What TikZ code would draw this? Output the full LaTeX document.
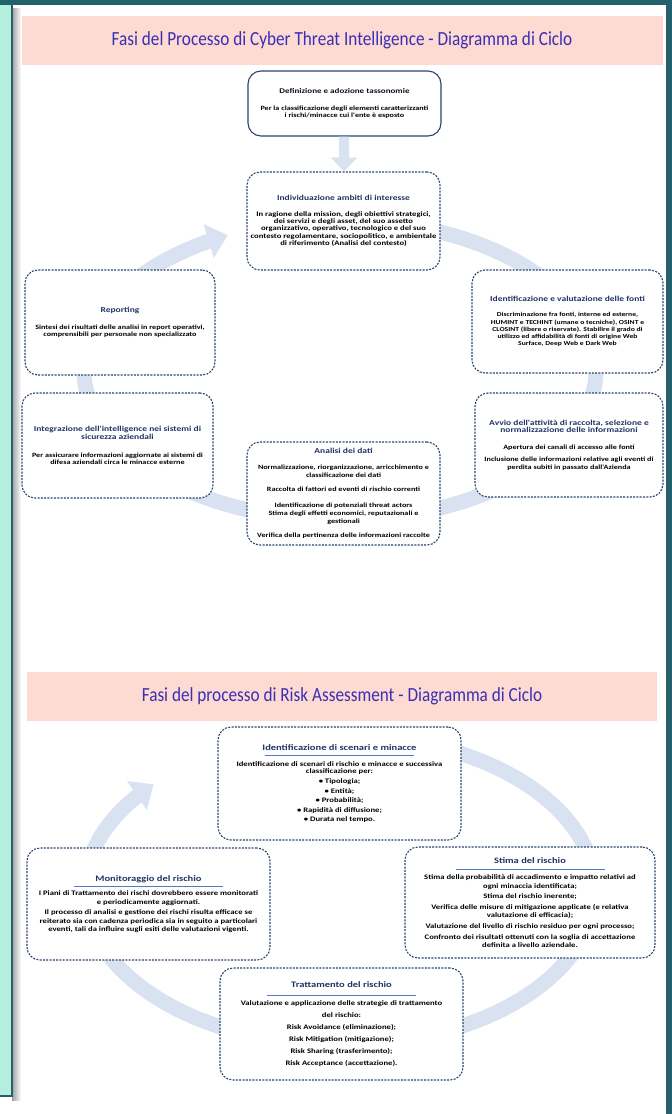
\documentclass[tikz,border=0pt]{standalone}
\usepackage{fontspec}
\usetikzlibrary{arrows.meta}
\setmainfont{Carlito}
\newfontfamily\boxfont[FakeStretch=1.25]{Carlito}
\newfontfamily\titlefont[FakeStretch=0.86]{Carlito}
\definecolor{deepteal}{HTML}{25616C}
\definecolor{mint}{HTML}{B4EEDD}
\definecolor{bannerpink}{HTML}{FDDAD2}
\definecolor{titleblue}{HTML}{3A2FB5}
\definecolor{boxnavy}{HTML}{2B4470}
\definecolor{headnavy}{HTML}{1F3566}
\definecolor{ringblue}{HTML}{D8E2F0}
\definecolor{ruleblue}{HTML}{4F7BC8}
\newcommand\ctihead[1]{{\color{headnavy}\fontsize{7.6}{8.2}\selectfont #1}}
\newcommand\rahead[1]{{\color{headnavy}\fontsize{8.4}{9}\selectfont #1}\\[-4pt]{\color{ruleblue}\rule{149pt}{0.7pt}}}
\tikzset{
  phase/.style={draw=boxnavy, line width=1.1pt, dash pattern=on 2pt off 1.3pt,
    rounded corners=13pt, fill=white, align=center, inner sep=2pt,
    font=\boxfont\bfseries\fontsize{6.5}{7.2}\selectfont},
  raphase/.style={phase, font=\boxfont\bfseries\fontsize{6.9}{#1}\selectfont},
  banner/.style={fill=bannerpink, text=titleblue, inner sep=0pt,
    font=\titlefont\fontsize{20}{22}\selectfont},
  ring/.style={ringblue, line width=15pt, -{Triangle[width=34pt,length=20pt]}},
  feed/.style={ringblue, line width=10pt, -{Triangle[width=26pt,length=14pt]}}
}
\begin{document}
\begin{tikzpicture}[x=1pt,y=-1pt]
\useasboundingbox (0,0) rectangle (672,1114);
% page and frame
\fill[white] (0,0) rectangle (672,1114);
\shade[left color=gray!75, right color=white] (12,8) rectangle (21,1100);
\fill[mint] (0,5) rectangle (12,1096);
\draw[deepteal, line width=1.5pt] (12,5) -- (12,1096) -- (0,1096);
\fill[deepteal] (0,0) rectangle (672,5);
\fill[deepteal] (666,0) rectangle (672,1114);

% Cyber Threat Intelligence
\node[banner, minimum width=641pt, minimum height=49pt] (ctititle) at (342,40)
  {Fasi del Processo di Cyber Threat Intelligence - Diagramma di Ciclo};
\draw[ring] plot[domain=-80:244, samples=120] ({340+256*cos(\x)},{370+150*sin(\x)});

\node[phase, solid, minimum width=193pt, minimum height=65pt] (defn) at (344.5,103.5)
  {{\color{black!70!headnavy}\fontsize{7.2}{8}\selectfont Definizione e adozione tassonomie}\\[9pt]
   Per la classificazione degli elementi caratterizzanti\\i rischi/minacce cui l'ente è esposto};
\node[phase, minimum width=193pt, minimum height=98pt,
      font=\boxfont\bfseries\fontsize{6.9}{7.3}\selectfont] (indiv) at (343.5,221)
  {\ctihead{Individuazione ambiti di interesse}\\[8pt]
   In ragione della mission, degli obiettivi strategici,\\dei servizi e degli asset, del suo assetto\\
   organizzativo, operativo, tecnologico e del suo\\contesto regolamentare, sociopolitico, e ambientale\\
   di riferimento (Analisi del contesto)};
\draw[feed] (defn) -- (indiv);
\node[phase, minimum width=191pt, minimum height=103pt,
      font=\boxfont\bfseries\fontsize{6.1}{7.2}\selectfont] (fonti) at (567.5,321.5)
  {\ctihead{Identificazione e valutazione delle fonti}\\[8pt]
   Discriminazione fra fonti, interne ed esterne,\\HUMINT e TECHINT (umane o tecniche), OSINT e\\
   CLOSINT (libere o riservate). Stabilire il grado di\\utilizzo ed affidabilità di fonti di origine Web\\
   Surface, Deep Web e Dark Web};
\node[phase, minimum width=188pt, minimum height=104pt] (avvio) at (569,445)
  {\ctihead{Avvio dell'attività di raccolta, selezione e}\\\ctihead{normalizzazione delle informazioni}\\[10pt]
   Apertura dei canali di accesso alle fonti\\[5pt]
   Inclusione delle informazioni relative agli eventi di\\perdita subiti in passato dall'Azienda};
\node[phase, minimum width=193pt, minimum height=103pt,
      font=\boxfont\bfseries\fontsize{6.5}{8}\selectfont] (analisi) at (343.5,493.5)
  {\ctihead{Analisi dei dati}\\[8pt]
   Normalizzazione, riorganizzazione, arricchimento e\\classificazione dei dati\\[6pt]
   Raccolta di fattori ed eventi di rischio correnti\\[8pt]
   Identificazione di potenziali threat actors\\Stima degli effetti economici, reputazionali e\\gestionali\\[6pt]
   Verifica della pertinenza delle informazioni raccolte};
\node[phase, minimum width=191pt, minimum height=105pt] (integr) at (117.5,445.5)
  {\ctihead{Integrazione dell'intelligence nei sistemi di}\\\ctihead{sicurezza aziendali}\\[11pt]
   Per assicurare informazioni aggiornate ai sistemi di\\difesa aziendali circa le minacce esterne};
\node[phase, minimum width=190pt, minimum height=105pt] (report) at (120,322.5)
  {\ctihead{Reporting}\\[10pt]
   Sintesi dei risultati delle analisi in report operativi,\\comprensibili per personale non specializzato};

% Risk Assessment
\node[banner, minimum width=630pt, minimum height=49pt] (ratitle) at (342,696)
  {Fasi del processo di Risk Assessment - Diagramma di Ciclo};
\draw[ring] plot[domain=-80:223, samples=120] ({340+255*cos(\x)},{890+155*sin(\x)});

\node[raphase=9.6, minimum width=243pt, minimum height=113pt] (scenari) at (339.5,783.5)
  {\rahead{Identificazione di scenari e minacce}\\[1pt]
   Identificazione di scenari di rischio e minacce e successiva\\[-2pt]classificazione per:\\
   • Tipologia;\\• Entità;\\• Probabilità;\\• Rapidità di diffusione;\\• Durata nel tempo.};
\node[raphase=10.6, minimum width=250pt, minimum height=111pt] (stima) at (530,902.5)
  {\rahead{Stima del rischio}\\[-1pt]
   Stima della probabilità di accadimento e impatto relativi ad\\[-2pt]ogni minaccia identificata;\\
   Stima del rischio inerente;\\
   Verifica delle misure di mitigazione applicate (e relativa\\[-2pt]valutazione di efficacia);\\
   Valutazione del livello di rischio residuo per ogni processo;\\
   Confronto dei risultati ottenuti con la soglia di accettazione\\[-2pt]definita a livello aziendale.};
\node[raphase=12, minimum width=243pt, minimum height=112pt] (tratt) at (341.5,1024)
  {\rahead{Trattamento del rischio}\\[-2pt]
   Valutazione e applicazione delle strategie di trattamento\\del rischio:\\
   Risk Avoidance (eliminazione);\\Risk Mitigation (mitigazione);\\
   Risk Sharing (trasferimento);\\Risk Acceptance (accettazione).};
\node[raphase=9.4, minimum width=243pt, minimum height=112pt] (monit) at (148.5,904)
  {\rahead{Monitoraggio del rischio}\\[0pt]
   I Piani di Trattamento dei rischi dovrebbero essere monitorati\\[-1pt]e periodicamente aggiornati.\\[1pt]
   Il processo di analisi e gestione dei rischi risulta efficace se\\[-1pt]
   reiterato sia con cadenza periodica sia in seguito a particolari\\[-1pt]
   eventi, tali da influire sugli esiti delle valutazioni vigenti.};
\end{tikzpicture}
\end{document}
